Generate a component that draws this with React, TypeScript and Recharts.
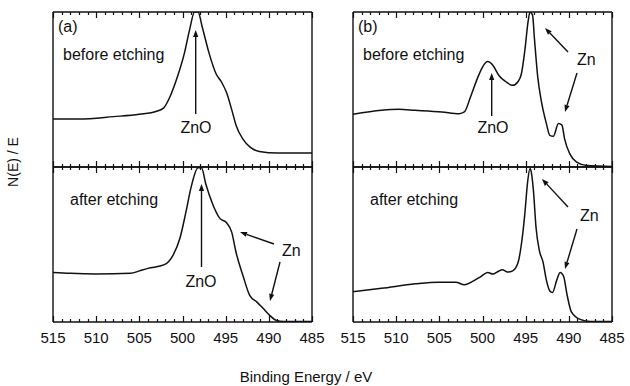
import { LineChart, Line, XAxis, YAxis } from "recharts";

const INK = "#111";
const FONT = '"Liberation Sans", Arial, Helvetica, sans-serif';

// binding energy ticks (eV), axis runs 515 -> 485
const MAJOR_TICKS = [515, 510, 505, 500, 495, 490, 485];
const MINOR_TICKS = Array.from({ length: 31 }, (_, i) => 515 - i);

// (a) before etching
const A_BEFORE_E = [515, 512, 508, 505, 503, 502.2, 501.4, 500.6, 499.8, 499.2, 498.6, 498.2, 497.7, 496.9, 496.1, 495.5, 494.9, 494.3, 493.8, 493.0, 492.2, 491.1, 489, 485];
const A_BEFORE_N = [31, 31, 32.5, 34, 36, 38, 46, 58, 73, 88, 100, 100, 90, 73, 60, 55, 48, 37, 27, 18, 13, 10, 9, 9];

// (a) after etching
const A_AFTER_E = [515, 513, 510, 506, 505, 504, 502.1, 501.1, 500.3, 499.6, 499.0, 498.2, 497.8, 497.3, 496.5, 495.7, 494.9, 494.3, 493.8, 493.0, 492.2, 491.4, 490.7, 489.9, 489.1, 488.3, 485];
const A_AFTER_N = [32, 31.4, 31, 31.4, 33, 34.6, 37, 43, 54, 71, 87, 99.5, 99.5, 89, 76, 67, 64, 58, 45, 30, 17, 13, 9, 4.3, 1, 0.4, 0.4];

// (b) before etching
const B_BEFORE_E = [515, 511.7, 509.7, 507.8, 504.7, 502.7, 502.1, 501.4, 500.6, 500.0, 499.4, 498.8, 498.1, 497.3, 496.5, 495.9, 495.5, 495.1, 494.7, 494.5, 494.2, 494.0, 493.6, 493.2, 492.6, 492.2, 491.8, 491.2, 490.8, 490.5, 489.9, 489.1, 487.9, 485];
const B_BEFORE_N = [34, 36.6, 37.2, 36.6, 35.5, 34.4, 35.5, 45, 57, 64.5, 68, 65.6, 59, 55, 52.7, 55, 60, 75, 94.6, 100, 98, 84, 58, 43, 28, 20.4, 19.8, 28, 27, 18.3, 8.6, 3.2, 1, 0.4];

// (b) after etching
const B_AFTER_E = [515, 511.7, 507.8, 505.1, 503.1, 502.1, 501.2, 500.2, 499.4, 498.8, 498.2, 497.7, 497.1, 496.5, 495.9, 495.5, 495.1, 494.8, 494.5, 494.4, 494.1, 493.8, 493.4, 493.0, 492.6, 492.2, 491.9, 491.4, 491.0, 490.6, 490.2, 489.7, 488.7, 487.5, 485];
const B_AFTER_N = [19.6, 21.7, 24.6, 25.7, 25.7, 24, 26, 29.3, 32, 30.9, 32.6, 33.7, 32.2, 33, 38, 50, 69.6, 89, 99, 98, 84.8, 61, 45.7, 39, 27, 20, 19, 27, 32, 29.3, 17.4, 6.5, 1.7, 0.4, 0.4];

const toRows = (e: number[], n: number[]) => e.map((x, i) => ({ e: x, n: n[i] }));

const FRAME_W = 259;
const FRAME_H = 155;

type TickProps = { x?: number | string; y?: number | string; payload?: { value: number }; dir: number; label: boolean };

// inward tick marks; major every 5 eV, labels only under the lower panels
const Tick = ({ x = 0, y = 0, payload, dir, label }: TickProps) => {
  const v = payload ? Number(payload.value) : 0;
  const major = MAJOR_TICKS.includes(v);
  const tx = Math.round(Number(x)) + 0.5;
  const ty = Number(y);
  const len = major ? 6 : 3;
  return (
    <g>
      <path d={`M${tx},${ty} L${tx},${ty + dir * len}`} stroke={INK} strokeWidth={1.2} fill="none" />
      {label && major && (
        <text x={Number(x)} y={ty + 20.5} textAnchor="middle" fontSize={15} fontFamily={FONT} fill={INK}>
          {v}
        </text>
      )}
    </g>
  );
};

function Spectrum({ e, n, left, top, labels }: { e: number[]; n: number[]; left: number; top: number; labels: boolean }) {
  const padX = 16;
  const padTop = 8;
  const padBottom = labels ? 30 : 8;
  const axisLine = { stroke: INK, strokeWidth: 1.4 };
  return (
    <div style={{ position: "absolute", left: left - padX, top: top - padTop }}>
      <LineChart
        width={FRAME_W + 2 * padX}
        height={FRAME_H + padTop + padBottom}
        data={toRows(e, n)}
        margin={{ top: 0, right: 0, bottom: 0, left: 0 }}
      >
        <XAxis
          xAxisId="bottom"
          dataKey="e"
          type="number"
          domain={[485, 515]}
          reversed
          allowDataOverflow
          ticks={MINOR_TICKS}
          interval={0}
          height={padBottom}
          tickLine={false}
          tickSize={0}
          tickMargin={0}
          axisLine={axisLine}
          tick={(p: any) => <Tick {...p} dir={-1} label={labels} />}
        />
        <XAxis
          xAxisId="top"
          orientation="top"
          dataKey="e"
          type="number"
          domain={[485, 515]}
          reversed
          allowDataOverflow
          ticks={MINOR_TICKS}
          interval={0}
          height={padTop}
          tickLine={false}
          tickSize={0}
          tickMargin={0}
          axisLine={axisLine}
          tick={(p: any) => <Tick {...p} dir={1} label={false} />}
        />
        <YAxis yAxisId="l" width={padX} domain={[0, 100]} allowDataOverflow tick={false} tickLine={false} axisLine={axisLine} />
        <YAxis yAxisId="r" orientation="right" width={padX} domain={[0, 100]} allowDataOverflow tick={false} tickLine={false} axisLine={axisLine} />
        <Line
          xAxisId="bottom"
          yAxisId="l"
          dataKey="n"
          type="monotone"
          stroke={INK}
          strokeWidth={1.5}
          dot={false}
          isAnimationActive={false}
        />
      </LineChart>
    </div>
  );
}

const Arrow = ({ x1, y1, x2, y2 }: { x1: number; y1: number; x2: number; y2: number }) => {
  const a = Math.atan2(y2 - y1, x2 - x1);
  const len = 7;
  const w = 2.6;
  const bx = x2 - len * Math.cos(a);
  const by = y2 - len * Math.sin(a);
  const px = -Math.sin(a) * w;
  const py = Math.cos(a) * w;
  return (
    <g>
      <line x1={x1} y1={y1} x2={bx} y2={by} stroke={INK} strokeWidth={1.4} />
      <polygon points={`${x2},${y2} ${bx + px},${by + py} ${bx - px},${by - py}`} fill={INK} />
    </g>
  );
};

const T = ({ x, y, children, anchor = "start", size = 16 }: { x: number; y: number; children: string; anchor?: "start" | "middle"; size?: number }) => (
  <text x={x} y={y} textAnchor={anchor} fontSize={size} fontFamily={FONT} fill={INK}>
    {children}
  </text>
);

export default function App() {
  return (
    <div style={{ position: "absolute", left: 0, top: 0, width: 630, height: 386, background: "#fff", overflow: "hidden" }}>
      <Spectrum e={A_BEFORE_E} n={A_BEFORE_N} left={53} top={12} labels={false} />
      <Spectrum e={A_AFTER_E} n={A_AFTER_N} left={53} top={167} labels />
      <Spectrum e={B_BEFORE_E} n={B_BEFORE_N} left={353} top={12} labels={false} />
      <Spectrum e={B_AFTER_E} n={B_AFTER_N} left={353} top={167} labels />

      <svg width={630} height={386} style={{ position: "absolute", left: 0, top: 0, pointerEvents: "none" }}>
        {/* panel (a) */}
        <T x={58} y={32}>(a)</T>
        <T x={63} y={60}>before etching</T>
        <T x={196} y={133} anchor="middle">ZnO</T>
        <Arrow x1={195.7} y1={114} x2={195.7} y2={30} />
        <T x={70} y={205}>after etching</T>
        <T x={201} y={287} anchor="middle">ZnO</T>
        <Arrow x1={201.5} y1={267} x2={201.5} y2={184} />
        <T x={282} y={256}>Zn</T>
        <Arrow x1={274} y1={244} x2={240} y2={232} />
        <Arrow x1={280} y1={262} x2={270} y2={301} />

        {/* panel (b) */}
        <T x={358} y={32}>(b)</T>
        <T x={363} y={60}>before etching</T>
        <T x={493} y={133} anchor="middle">ZnO</T>
        <Arrow x1={491.7} y1={116} x2={491.7} y2={73} />
        <T x={577} y={65}>Zn</T>
        <Arrow x1={568} y1={52} x2={545} y2={28} />
        <Arrow x1={577} y1={73} x2={565} y2={112} />
        <T x={370} y={205}>after etching</T>
        <T x={580} y={221}>Zn</T>
        <Arrow x1={568} y1={207} x2={542} y2={179} />
        <Arrow x1={577} y1={229} x2={565} y2={269} />

        {/* axis titles */}
        <text
          x={0}
          y={0}
          transform="translate(17.5 162) rotate(-90)"
          textAnchor="middle"
          fontSize={14}
          fontFamily={FONT}
          fill={INK}
        >
          N(E) / E
        </text>
        <T x={306} y={382} anchor="middle" size={15}>Binding Energy / eV</T>
      </svg>
    </div>
  );
}
